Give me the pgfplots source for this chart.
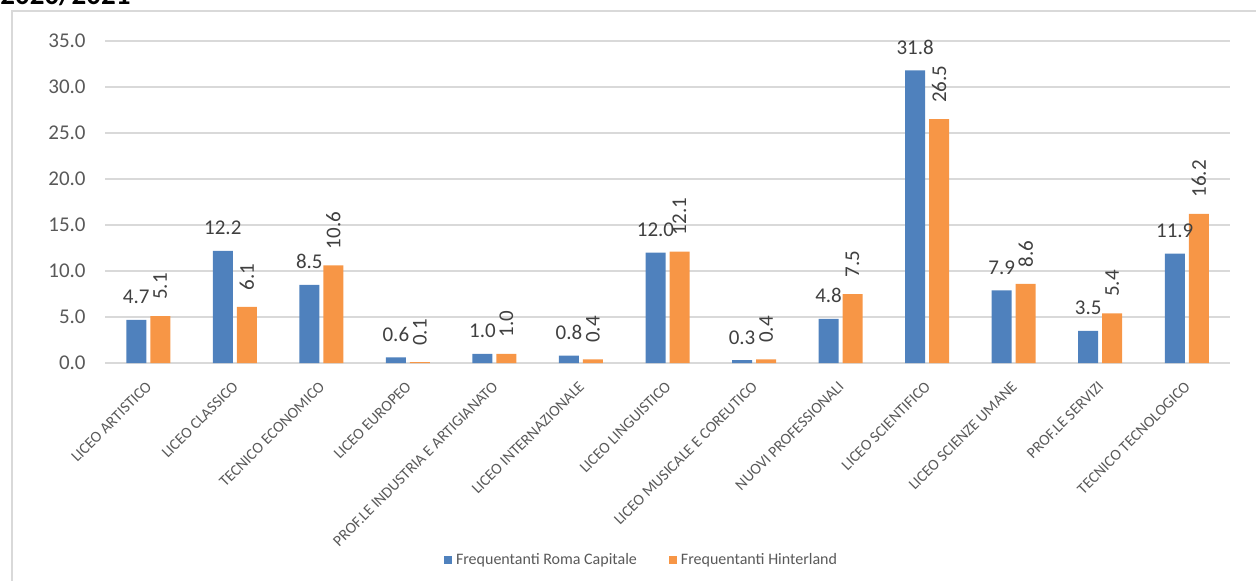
\documentclass[border=0pt]{standalone}
\usepackage{pgfplots}
\pgfplotsset{compat=1.18}
\usepackage{fontspec}
\setmainfont{Carlito}
\definecolor{cblue}{HTML}{4F81BD}
\definecolor{corange}{HTML}{F79646}
\definecolor{cgrid}{HTML}{D9D9D9}
\definecolor{ctick}{HTML}{595959}
\definecolor{clab}{HTML}{404040}
\begin{document}
\begin{tikzpicture}
% frame
\draw[cgrid,line width=1.2pt] (6pt,-3pt) -- (6pt,284.5pt) -- (632pt,284.5pt);
% title (cut off at top)
\node[anchor=base west,inner sep=0pt,font=\fontsize{14.5}{16}\selectfont\bfseries] at (0pt,287.5pt) {2020/2021};
\begin{axis}[
  at={(52.5pt,108.5pt)}, anchor=south west,
  scale only axis, width=562.5pt, height=161pt,
  ymin=0, ymax=35, xmin=-0.5, xmax=12.5,
  ybar=2pt, bar width=10pt,
  axis line style={draw=none},
  major tick length=0pt,
  ymajorgrids, grid style={cgrid,line width=0.75pt},
  ytick={0,5,...,35},
  /pgf/number format/assume math mode=true,
  /pgf/number format/.cd, fixed, fixed zerofill, precision=1, /pgfplots/.cd,
  yticklabel style={font=\fontsize{10.5}{12}\selectfont, text=ctick, inner sep=0pt, xshift=-9.5pt},
  xtick=data,
  xticklabels={LICEO ARTISTICO,LICEO CLASSICO,TECNICO ECONOMICO,LICEO EUROPEO,PROF.LE INDUSTRIA E ARTIGIANATO,LICEO INTERNAZIONALE,LICEO LINGUISTICO,LICEO MUSICALE E COREUTICO,NUOVI PROFESSIONALI,LICEO SCIENTIFICO,LICEO SCIENZE UMANE,PROF.LE SERVIZI,TECNICO TECNOLOGICO},
  xticklabel style={font=\fontsize{7.8}{9}\selectfont, text=ctick, inner sep=0pt, yshift=-8.5pt, xshift=-1.5pt, anchor=north east, rotate=45},
  legend style={at={(0.4778,-0.612)}, anchor=center, draw=none, fill=none,
    legend columns=2, font=\fontsize{8}{10}\selectfont, text=ctick,
    /tikz/every even column/.append style={column sep=14pt},
    legend cell align=left, inner sep=0pt},
  legend image code/.code={\fill[#1] (0pt,-2pt) rectangle (4pt,2pt);},
  every node near coord/.append style={font=\fontsize{10.5}{12}\selectfont, text=clab, inner sep=0pt},
]
\addplot[fill=cblue, draw=none,
  nodes near coords,
  every node near coord/.append style={anchor=base, yshift=8pt}]
  coordinates {(0,4.7) (1,12.2) (2,8.5) (3,0.6) (4,1.0) (5,0.8) (6,12.0) (7,0.3) (8,4.8) (9,31.8) (10,7.9) (11,3.5) (12,11.9)};
\addplot[fill=corange, draw=none,
  nodes near coords,
  every node near coord/.append style={yshift=8pt, anchor=west, rotate=90}]
  coordinates {(0,5.1) (1,6.1) (2,10.6) (3,0.1) (4,1.0) (5,0.4) (6,12.1) (7,0.4) (8,7.5) (9,26.5) (10,8.6) (11,5.4) (12,16.2)};
\legend{Frequentanti Roma Capitale, Frequentanti Hinterland}
\end{axis}
\pgfresetboundingbox
\path[use as bounding box] (0pt,0pt) rectangle (628pt,290pt);
\end{tikzpicture}
\end{document}
